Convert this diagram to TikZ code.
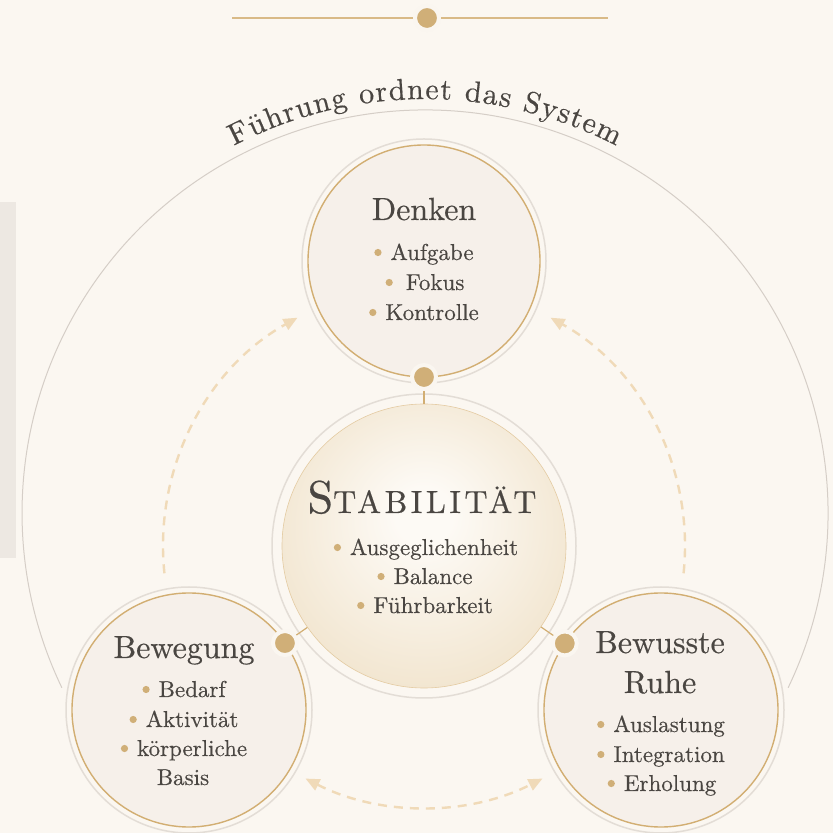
\documentclass[tikz,border=0pt]{standalone}
\usepackage{fontspec}
\setmainfont{lmroman10-regular.otf}[FakeBold=0.45]
\usetikzlibrary{calc,arrows.meta,decorations.text}
\definecolor{bg}{HTML}{FBF7F1}
\definecolor{barc}{HTML}{EDE8E2}
\definecolor{bigarcc}{HTML}{D5CEC7}
\definecolor{cfill}{HTML}{F6F0EA}
\definecolor{gold}{HTML}{D2AE72}
\definecolor{greyr}{HTML}{E3DDD6}
\definecolor{dotc}{HTML}{D0AF78}
\definecolor{halo}{HTML}{FAF6F0}
\definecolor{txt}{HTML}{4A4642}
\definecolor{dashc}{HTML}{F0DAB8}
\definecolor{shin}{HTML}{FDFAF5}
\definecolor{shmid}{HTML}{F1E4CD}
\definecolor{shout}{HTML}{E4CBA2}
\pgfdeclareradialshading{stabshade}{\pgfpoint{0bp}{6bp}}{color(0bp)=(shin); color(5bp)=(shin); color(30bp)=(shmid); color(50bp)=(shout)}
\newcommand\bdot{\tikz[baseline=-7.5pt]\fill[dotc] (0pt,0pt) circle[radius=3.6pt];\hspace{9pt}}
\newcommand\ttl{\fontsize{32}{36}\selectfont}
\newcommand\itf{\fontsize{23}{26}\selectfont}
\begin{document}
\begin{tikzpicture}[x=1pt,y=1pt,
  bubble/.style={circle,minimum size=232pt,inner sep=0pt,draw=gold,line width=1.4pt,fill=cfill},
  greyring/.style={draw=greyr,line width=1.5pt},
  dotn/.style={circle,minimum size=24pt,inner sep=0pt,fill=dotc,draw=halo,line width=4pt},
  conn/.style={draw=gold,line width=1.2pt},
  topline/.style={draw=gold!85,line width=1.2pt},
  bigarc/.style={draw=bigarcc,line width=1pt},
  dasharr/.style={draw=dashc,line width=2.4pt,dash pattern=on 9pt off 7pt},
  tip/.tip={Triangle[length=14pt,width=12pt]},
  txtn/.style={inner sep=0pt,anchor=base,text=txt}]
\useasboundingbox (0,0) rectangle (833,833);
\fill[bg] (0,0) rectangle (833,833);
\fill[barc] (0,275) rectangle (16,631);
% outer arc and title
\coordinate (bigc) at (425,320);
\draw[bigarc] ([shift={(-25.7:403)}]bigc) arc[start angle=-25.7,end angle=205.7,radius=403];
\path[decorate,decoration={text along path,text align=fit to path,
  text={|\fontsize{30}{30}\selectfont\color{txt}|Führung ordnet das System}}]
  ([shift={(117.5:414)}]bigc) arc[start angle=117.5,end angle=62.5,radius=414];
% top ornament
\coordinate (tl) at (232,815);
\coordinate (tr) at (608,815);
\node[dotn] (tdot) at (427,815) {};
\draw[topline] (tl) -- (tdot);
\draw[topline] (tdot) -- (tr);
% center circle
\coordinate (cenc) at (424,287);
\draw[greyring] (cenc) circle[radius=152];
\node[circle,minimum size=284pt,inner sep=0pt,shade,shading=stabshade,draw=shout,line width=0.6pt] (cen) at (cenc) {};
% dashed arrows
\draw[dasharr,-tip] ([shift={(186:261)}]cen.center) arc[start angle=186,end angle=119,radius=261];
\draw[dasharr,-tip] ([shift={(-6:261)}]cen.center) arc[start angle=-6,end angle=61,radius=261];
\draw[dasharr,tip-tip] ([shift={(243:261)}]cen.center) arc[start angle=243,end angle=297,radius=261];
% outer circles
\coordinate (denc) at (424,572);
\coordinate (bwgc) at (189,123);
\coordinate (bwrc) at (661,123);
\draw[greyring] (denc) circle[radius=122];
\draw[greyring] (bwgc) circle[radius=123];
\draw[greyring] (bwrc) circle[radius=123];
\node[bubble] (den) at (denc) {};
\node[bubble,minimum size=234pt] (bwg) at (bwgc) {};
\node[bubble,minimum size=234pt] (bwr) at (bwrc) {};
% dots and connectors
\node[dotn] (dden) at ($(denc)!116pt!(cenc)$) {};
\node[dotn] (dbwg) at ($(bwgc)!117pt!(cenc)$) {};
\node[dotn] (dbwr) at ($(bwrc)!117pt!(cenc)$) {};
\draw[conn] (dden) -- (cen);
\draw[conn] (dbwg) -- (cen);
\draw[conn] (dbwr) -- (cen);
% texts: Denken
\node[txtn] (t1) at (424,613) {\ttl Denken};
\node[txtn] (t1a) at (424,573) {\itf\bdot Aufgabe};
\node[txtn] (t1b) at (425,543) {\itf\bdot\hspace{4pt}Fokus};
\node[txtn] (t1c) at (424,513) {\itf\bdot Kontrolle};
% center
\node[txtn] (t0) at (422,320) {\fontsize{46}{50}\selectfont\addfontfeature{LetterSpace=11}S{\fontsize{32}{36}\selectfont TABILITÄT}};
\node[txtn] (t0a) at (426,278) {\itf\bdot Ausgeglichenheit};
\node[txtn] (t0b) at (425,249) {\itf\bdot Balance};
\node[txtn] (t0c) at (425,220) {\itf\bdot Führbarkeit};
% Bewegung
\node[txtn] (t2) at (184,175) {\ttl Bewegung};
\node[txtn] (t2a) at (184,136) {\itf\bdot Bedarf};
\node[txtn] (t2b) at (184,106) {\itf\bdot Aktivität};
\node[txtn] (t2c) at (184,77) {\itf\bdot körperliche};
\node[txtn] (t2d) at (183,48) {\itf Basis};
% Bewusste Ruhe
\node[txtn] (t3) at (660,180) {\ttl Bewusste};
\node[txtn] (t3b) at (660,140) {\ttl Ruhe};
\node[txtn] (t3c) at (661,101) {\itf\bdot Auslastung};
\node[txtn] (t3d) at (661,71) {\itf\bdot Integration};
\node[txtn] (t3e) at (662,42) {\itf\bdot Erholung};
\end{tikzpicture}
\end{document}
